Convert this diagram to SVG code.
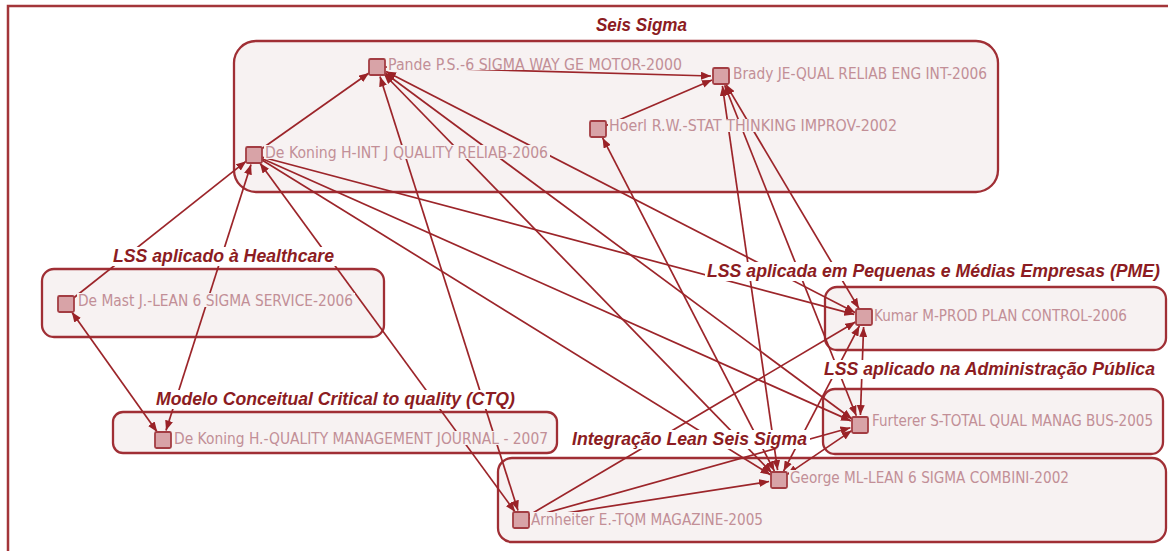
<svg xmlns="http://www.w3.org/2000/svg" width="1168" height="551" viewBox="0 0 1168 551">
  <defs>
    <marker id="arrow" viewBox="0 0 10 8" refX="10" refY="4" markerWidth="10" markerHeight="8" markerUnits="userSpaceOnUse" orient="auto-start-reverse">
      <path d="M0,0 L10,4 L0,8 z" fill="#9a2227"/>
    </marker>
    <style>
      .frame { fill: none; stroke: #a3363a; stroke-width: 2.5; }
      .cluster { fill: #f7f2f2; stroke: #a02f35; stroke-width: 2.3; }
      .cluster-title { font-family: "Liberation Sans", Arial, sans-serif; font-size: 17.5px; font-weight: bold; font-style: italic; fill: #8c1c22; }
      .title-bg { fill: #ffffff; }
      .edge { stroke: #9c252a; stroke-width: 1.7; fill: none; }
      .one { marker-end: url(#arrow); }
      .two { marker-start: url(#arrow); marker-end: url(#arrow); }
      .node rect.box { fill: #d8a3a7; stroke: #a33d43; stroke-width: 1.8; }
      .node rect.bg { fill: #f7f2f2; }
      .node text { font-family: "DejaVu Sans", Verdana, sans-serif; font-size: 15px; fill: #c28f97; }
    </style>
  </defs>

  <rect width="1168" height="551" fill="#ffffff"/>
  <path class="frame" d="M8,551 V6 H1168"/>

  <!-- cluster outlines -->
  <g id="clusters">
    <rect id="cl-seis-sigma" class="cluster" x="234" y="41" width="764" height="151" rx="22"/>
    <rect id="cl-healthcare" class="cluster" x="42" y="269" width="342" height="68" rx="12"/>
    <rect id="cl-pme" class="cluster" x="825" y="287" width="341" height="63" rx="12"/>
    <rect id="cl-adm" class="cluster" x="823" y="389" width="340" height="65" rx="12"/>
    <rect id="cl-ctq" class="cluster" x="113" y="412" width="444" height="41" rx="10"/>
    <rect id="cl-lean" class="cluster" x="498" y="458" width="668" height="84" rx="14"/>
  </g>

  <!-- citation links -->
  <g id="connectors">
    <line class="edge one" x1="260" y1="150" x2="369" y2="73"/>
    <line class="edge one" x1="385" y1="67" x2="711" y2="76"/>
    <line class="edge one" x1="605" y1="126" x2="712" y2="80"/>
    <line class="edge two" x1="380" y1="76.5" x2="518" y2="510.5"/>
    <line class="edge two" x1="384" y1="74" x2="772" y2="473"/>
    <line class="edge two" x1="385" y1="73" x2="852" y2="419"/>
    <line class="edge two" x1="386" y1="71.6" x2="855" y2="312.4"/>
    <line class="edge two" x1="722.4" y1="85.9" x2="777.6" y2="470.1"/>
    <line class="edge two" x1="724.7" y1="85.3" x2="856.3" y2="415.7"/>
    <line class="edge two" x1="726.1" y1="84.6" x2="858.9" y2="308.4"/>
    <line class="edge two" x1="602.6" y1="137.9" x2="774.4" y2="471.1"/>
    <line class="edge one" x1="261.7" y1="157" x2="854.3" y2="314.4"/>
    <line class="edge one" x1="261.3" y1="158.3" x2="850.9" y2="420.9"/>
    <line class="edge one" x1="260.8" y1="159.2" x2="770.5" y2="474.7"/>
    <line class="edge two" x1="259.9" y1="163.1" x2="515.1" y2="511.9"/>
    <line class="edge two" x1="166" y1="430.5" x2="251" y2="164.5"/>
    <line class="edge two" x1="71.8" y1="312.1" x2="157.2" y2="431.9"/>
    <line class="edge one" x1="72.3" y1="299" x2="246.2" y2="161.2"/>
    <line class="edge two" x1="783.6" y1="471.1" x2="859.4" y2="325.9"/>
    <line class="edge two" x1="787.3" y1="474.4" x2="851.7" y2="430.6"/>
    <line class="edge two" x1="860.4" y1="415" x2="863.6" y2="327"/>
    <line class="edge one" x1="529" y1="518.8" x2="769.1" y2="481.5"/>
    <line class="edge one" x1="528.7" y1="517.8" x2="850.4" y2="427.7"/>
    <line class="edge one" x1="527.9" y1="515.9" x2="855.4" y2="322.1"/>
  </g>

  <!-- cluster titles -->
  <g id="cluster-titles">
    <text class="cluster-title" x="596" y="31" textLength="91" lengthAdjust="spacingAndGlyphs">Seis Sigma</text>
    <rect class="title-bg" x="111" y="247" width="226" height="19"/>
    <text class="cluster-title" x="113" y="262" textLength="221" lengthAdjust="spacingAndGlyphs">LSS aplicado à Healthcare</text>
    <rect class="title-bg" x="705" y="262" width="458" height="19"/>
    <text class="cluster-title" x="707" y="277" textLength="453" lengthAdjust="spacingAndGlyphs">LSS aplicada em Pequenas e Médias Empresas (PME)</text>
    <rect class="title-bg" x="822" y="360" width="336" height="19"/>
    <text class="cluster-title" x="824" y="375" textLength="331" lengthAdjust="spacingAndGlyphs">LSS aplicado na Administração Pública</text>
    <rect class="title-bg" x="154" y="390" width="364" height="19"/>
    <text class="cluster-title" x="156" y="405" textLength="359" lengthAdjust="spacingAndGlyphs">Modelo Conceitual Critical to quality (CTQ)</text>
    <rect class="title-bg" x="570" y="430" width="240" height="19"/>
    <text class="cluster-title" x="572" y="445" textLength="235" lengthAdjust="spacingAndGlyphs">Integração Lean Seis Sigma</text>
  </g>

  <!-- cited references -->
  <g id="node-pande" class="node">
    <rect class="bg" x="387" y="57" width="297" height="13"/>
    <rect class="box" x="369" y="59" width="16" height="16" rx="1.5"/>
    <text x="388" y="70" textLength="294" lengthAdjust="spacingAndGlyphs">Pande P.S.-6 SIGMA WAY GE MOTOR-2000</text>
  </g>
  <g id="node-brady" class="node">
    <rect class="bg" x="732" y="66" width="257" height="14"/>
    <rect class="box" x="713" y="68" width="16" height="16" rx="1.5"/>
    <text x="733" y="79" textLength="254" lengthAdjust="spacingAndGlyphs">Brady JE-QUAL RELIAB ENG INT-2006</text>
  </g>
  <g id="node-hoerl" class="node">
    <rect class="bg" x="608" y="119" width="291" height="13"/>
    <rect class="box" x="590" y="121" width="16" height="16" rx="1.5"/>
    <text x="609" y="131" textLength="288" lengthAdjust="spacingAndGlyphs">Hoerl R.W.-STAT THINKING IMPROV-2002</text>
  </g>
  <g id="node-dekoning-ijqr" class="node">
    <rect class="bg" x="264" y="145" width="286" height="14"/>
    <rect class="box" x="246" y="147" width="16" height="16" rx="1.5"/>
    <text x="265" y="158" textLength="283" lengthAdjust="spacingAndGlyphs">De Koning H-INT J QUALITY RELIAB-2006</text>
  </g>
  <g id="node-demast" class="node">
    <rect class="bg" x="77" y="293" width="278" height="14"/>
    <rect class="box" x="58" y="296" width="16" height="16" rx="1.5"/>
    <text x="78" y="306" textLength="275" lengthAdjust="spacingAndGlyphs">De Mast J.-LEAN 6 SIGMA SERVICE-2006</text>
  </g>
  <g id="node-kumar" class="node">
    <rect class="bg" x="873" y="308" width="256" height="14"/>
    <rect class="box" x="856" y="309" width="16" height="16" rx="1.5"/>
    <text x="874" y="321" textLength="253" lengthAdjust="spacingAndGlyphs">Kumar M-PROD PLAN CONTROL-2006</text>
  </g>
  <g id="node-dekoning-qmj" class="node">
    <rect class="bg" x="173" y="431" width="377" height="14"/>
    <rect class="box" x="155" y="432" width="16" height="16" rx="1.5"/>
    <text x="174" y="444" textLength="374" lengthAdjust="spacingAndGlyphs">De Koning H.-QUALITY MANAGEMENT JOURNAL - 2007</text>
  </g>
  <g id="node-furterer" class="node">
    <rect class="bg" x="871" y="413" width="284" height="14"/>
    <rect class="box" x="852" y="417" width="16" height="16" rx="1.5"/>
    <text x="872" y="426" textLength="281" lengthAdjust="spacingAndGlyphs">Furterer S-TOTAL QUAL MANAG BUS-2005</text>
  </g>
  <g id="node-george" class="node">
    <rect class="bg" x="789" y="470" width="281" height="14"/>
    <rect class="box" x="771" y="472" width="16" height="16" rx="1.5"/>
    <text x="790" y="483" textLength="279" lengthAdjust="spacingAndGlyphs">George ML-LEAN 6 SIGMA COMBINI-2002</text>
  </g>
  <g id="node-arnheiter" class="node">
    <rect class="bg" x="530" y="512" width="235" height="14"/>
    <rect class="box" x="513" y="512" width="16" height="16" rx="1.5"/>
    <text x="531" y="525" textLength="232" lengthAdjust="spacingAndGlyphs">Arnheiter E.-TQM MAGAZINE-2005</text>
  </g>
</svg>
